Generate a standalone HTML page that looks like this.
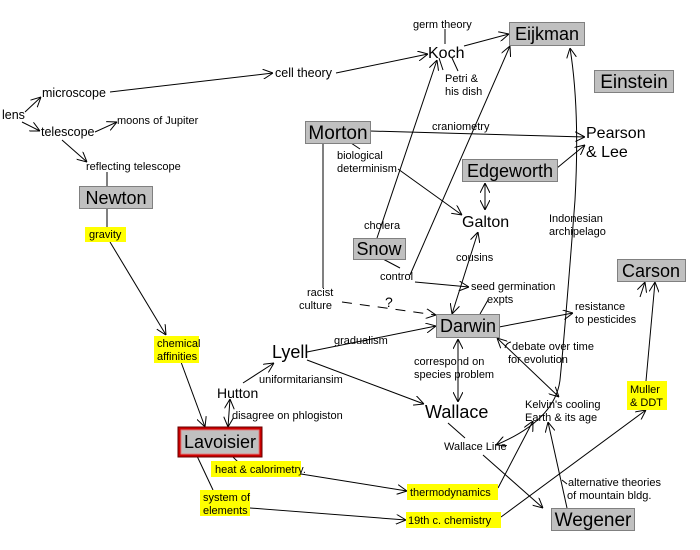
<!DOCTYPE html>
<html><head><meta charset="utf-8"><style>
html,body{margin:0;padding:0;background:#fff;}
svg{display:block;font-family:"Liberation Sans",sans-serif;}
.s{font-size:11px;fill:#000;}
.m{font-size:12.5px;fill:#000;}
.b{font-size:16px;fill:#000;}
.n{font-size:18px;fill:#000;}
line,path{stroke:#000;stroke-width:1;fill:none;}
.box{fill:#c0c0c0;stroke:#808080;stroke-width:1;}
.y{fill:#ffff00;stroke:none;}
</style></head><body>
<svg width="700" height="550" viewBox="0 0 700 550" xmlns="http://www.w3.org/2000/svg">
<defs>
<marker id="a" viewBox="0 0 10 10" refX="10" refY="5" markerWidth="10" markerHeight="10" orient="auto" markerUnits="userSpaceOnUse">
<path d="M0,0 L10,5 L0,10" style="stroke:#000;fill:none"/></marker>
<marker id="s" viewBox="0 0 10 10" refX="0" refY="5" markerWidth="10" markerHeight="10" orient="auto" markerUnits="userSpaceOnUse">
<path d="M10,0 L0,5 L10,10" style="stroke:#000;fill:none"/></marker>
</defs>
<line x1="25" y1="112" x2="41" y2="97" marker-end="url(#a)"/>
<line x1="22" y1="122" x2="40" y2="131" marker-end="url(#a)"/>
<line x1="110" y1="92" x2="273" y2="73" marker-end="url(#a)"/>
<line x1="95" y1="132" x2="117" y2="122" marker-end="url(#a)"/>
<line x1="62" y1="140" x2="87" y2="162" marker-end="url(#a)"/>
<line x1="107" y1="172" x2="107" y2="186"/>
<line x1="107" y1="208" x2="107" y2="227"/>
<line x1="110" y1="242" x2="166" y2="335" marker-end="url(#a)"/>
<line x1="181" y1="362" x2="205" y2="427" marker-end="url(#a)"/>
<line x1="336" y1="73" x2="428" y2="54" marker-end="url(#a)"/>
<line x1="445" y1="29" x2="445" y2="44"/>
<line x1="464" y1="46" x2="509" y2="34" marker-end="url(#a)"/>
<line x1="452" y1="58" x2="458" y2="71"/>
<line x1="439" y1="58" x2="443" y2="70"/>
<line x1="377" y1="238" x2="437" y2="60" marker-end="url(#a)"/>
<line x1="370" y1="131" x2="585" y2="137" marker-end="url(#a)"/>
<line x1="351" y1="143" x2="360" y2="149"/>
<line x1="398" y1="169" x2="462" y2="215" marker-end="url(#a)"/>
<line x1="557" y1="168" x2="585" y2="145" marker-end="url(#a)"/>
<line x1="485" y1="183" x2="485" y2="210" marker-start="url(#s)" marker-end="url(#a)"/>
<line x1="323" y1="143" x2="323" y2="288"/>
<path d="M342,302 L436,315" stroke-dasharray="10,8" marker-end="url(#a)"/>
<line x1="410" y1="275" x2="510" y2="46" marker-end="url(#a)"/>
<line x1="383" y1="259" x2="400" y2="268"/>
<line x1="415" y1="282" x2="469" y2="287" marker-end="url(#a)"/>
<line x1="478" y1="232" x2="452" y2="314" marker-start="url(#s)" marker-end="url(#a)"/>
<line x1="488" y1="300" x2="480" y2="314"/>
<line x1="499" y1="327" x2="573" y2="313" marker-end="url(#a)"/>
<line x1="640" y1="297" x2="645" y2="282" marker-end="url(#a)"/>
<line x1="646" y1="381" x2="655" y2="282" marker-end="url(#a)"/>
<line x1="501" y1="517" x2="646" y2="410" marker-end="url(#a)"/>
<line x1="497" y1="338" x2="559" y2="397" marker-start="url(#s)" marker-end="url(#a)"/>
<path d="M505,348 Q506,343 511,342"/>
<path d="M570,48 Q580,110 575,200 Q565,330 560,380 Q555,420 496,445" marker-start="url(#s)" marker-end="url(#a)"/>
<line x1="458" y1="339" x2="458" y2="402" marker-start="url(#s)" marker-end="url(#a)"/>
<line x1="307" y1="352" x2="436" y2="326" marker-end="url(#a)"/>
<line x1="307" y1="360" x2="424" y2="404" marker-end="url(#a)"/>
<line x1="243" y1="383" x2="274" y2="363" marker-end="url(#a)"/>
<line x1="228" y1="427" x2="230" y2="399" marker-start="url(#s)" marker-end="url(#a)"/>
<line x1="232" y1="456" x2="238" y2="462"/>
<line x1="197" y1="456" x2="213" y2="490"/>
<line x1="301" y1="474" x2="407" y2="491" marker-end="url(#a)"/>
<line x1="250" y1="508" x2="406" y2="520" marker-end="url(#a)"/>
<line x1="498" y1="488" x2="533" y2="421" marker-end="url(#a)"/>
<line x1="448" y1="423" x2="465" y2="438"/>
<line x1="483" y1="455" x2="543" y2="508" marker-end="url(#a)"/>
<line x1="567" y1="508" x2="548" y2="422" marker-end="url(#a)"/>
<line x1="562" y1="480" x2="567" y2="484"/>
<rect class="box" x="509.5" y="22.5" width="75" height="23"/><text class="n" x="547" y="40" text-anchor="middle">Eijkman</text>
<rect class="box" x="594.5" y="70.5" width="79" height="22"/><text class="n" x="634" y="88" text-anchor="middle" style="font-size:19px">Einstein</text>
<rect class="box" x="305.5" y="121.5" width="65" height="22"/><text class="n" x="338" y="139" text-anchor="middle" style="font-size:19px">Morton</text>
<rect class="box" x="462.5" y="159.5" width="95" height="22"/><text class="n" x="510" y="177" text-anchor="middle">Edgeworth</text>
<rect class="box" x="79.5" y="186.5" width="73" height="22"/><text class="n" x="116" y="204" text-anchor="middle">Newton</text>
<rect class="box" x="353.5" y="238.5" width="52" height="21"/><text class="n" x="379" y="255" text-anchor="middle">Snow</text>
<rect class="box" x="617.5" y="259.5" width="68" height="22"/><text class="n" x="651" y="277" text-anchor="middle">Carson</text>
<rect class="box" x="436.5" y="314.5" width="63" height="23"/><text class="n" x="468" y="332" text-anchor="middle">Darwin</text>
<rect x="178" y="427" width="84" height="30" fill="#cc0000" stroke="#600" stroke-width="1"/>
<rect x="181" y="430" width="78" height="24" fill="#c0c0c0" stroke="#e08080"/>
<text class="n" x="220" y="448" text-anchor="middle">Lavoisier</text>
<rect class="box" x="551.5" y="508.5" width="83" height="22"/><text class="n" x="593" y="526" text-anchor="middle" style="font-size:19px">Wegener</text>
<rect class="y" x="85" y="227" width="41" height="15"/><text class="s" x="89" y="238">gravity</text>
<rect class="y" x="154" y="336" width="45" height="27"/><text class="s" x="157" y="347">chemical</text><text class="s" x="157" y="360">affinities</text>
<rect class="y" x="211" y="461" width="90" height="16"/><text class="s" x="215" y="473">heat &amp; calorimetry.</text>
<rect class="y" x="200" y="490" width="50" height="26"/><text class="s" x="203" y="501">system of</text><text class="s" x="203" y="514">elements</text>
<rect class="y" x="407" y="484" width="91" height="16"/><text class="s" x="410" y="496">thermodynamics</text>
<rect class="y" x="406" y="512" width="95" height="16"/><text class="s" x="408" y="524">19th c. chemistry</text>
<rect class="y" x="627" y="381" width="40" height="29"/><text class="s" x="630" y="393">Muller</text><text class="s" x="630" y="406">&amp; DDT</text>
<text class="m" x="2" y="119">lens</text>
<text class="m" x="42" y="97">microscope</text>
<text class="m" x="41" y="136">telescope</text>
<text class="s" x="117" y="124">moons of Jupiter</text>
<text class="s" x="86" y="170">reflecting telescope</text>
<text class="m" x="275" y="77">cell theory</text>
<text class="s" x="413" y="28">germ theory</text>
<text class="b" x="428" y="58">Koch</text>
<text class="s" x="445" y="82">Petri &amp;</text><text class="s" x="445" y="95">his dish</text>
<text class="s" x="432" y="130">craniometry</text>
<text class="b" x="586" y="138">Pearson</text><text class="b" x="586" y="157">&amp; Lee</text>
<text class="s" x="337" y="159">biological</text><text class="s" x="337" y="172">determinism</text>
<text class="b" x="462" y="227">Galton</text>
<text class="s" x="549" y="222">Indonesian</text><text class="s" x="549" y="235">archipelago</text>
<text class="s" x="364" y="229">cholera</text>
<text class="s" x="380" y="280">control</text>
<text class="s" x="456" y="261">cousins</text>
<text class="s" x="471" y="290">seed germination</text><text class="s" x="487" y="303">expts</text>
<text class="s" x="307" y="296">racist</text><text class="s" x="299" y="309">culture</text>
<text x="385" y="307" style="font-size:14px">?</text>
<text class="s" x="575" y="310">resistance</text><text class="s" x="575" y="323">to pesticides</text>
<text class="s" x="334" y="344">gradualism</text>
<text class="b" x="272" y="358" style="font-size:18px">Lyell</text>
<text class="s" x="512" y="350">debate over time</text><text class="s" x="508" y="363">for evolution</text>
<text class="s" x="414" y="365">correspond on</text><text class="s" x="414" y="378">species problem</text>
<text class="s" x="259" y="383">uniformitariansim</text>
<text x="217" y="398" style="font-size:14px">Hutton</text>
<text class="s" x="525" y="408">Kelvin's cooling</text><text class="s" x="525" y="421">Earth &amp; its age</text>
<text class="b" x="425" y="418" style="font-size:18px">Wallace</text>
<text class="s" x="232" y="419">disagree on phlogiston</text>
<text class="s" x="444" y="450">Wallace Line</text>
<text class="s" x="568" y="486">alternative theories</text><text class="s" x="567" y="499">of mountain bldg.</text>
</svg>
</body></html>
